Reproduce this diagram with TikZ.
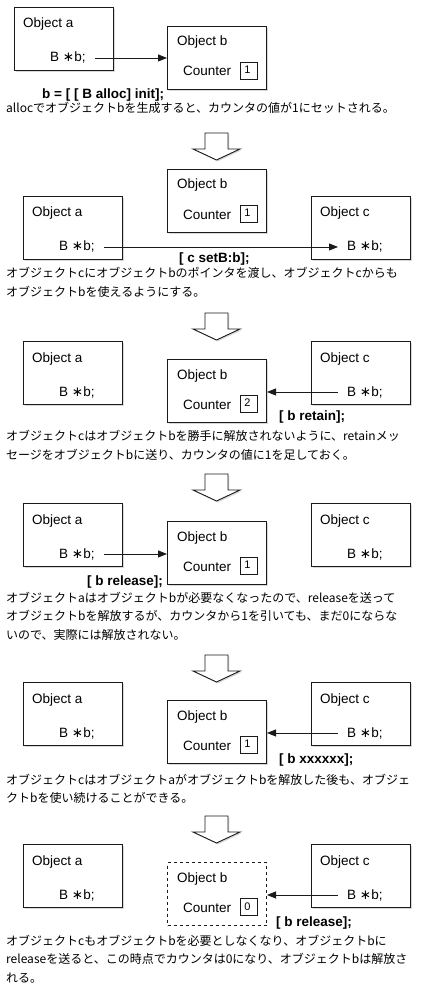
\documentclass[tikz,border=0pt]{standalone}
\usepackage{fontspec}
\setmainfont{Liberation Sans}
\newfontfamily\jpfont{Noto Sans CJK JP}
\newfontfamily\dvfont{DejaVu Sans}
\usetikzlibrary{arrows.meta,shadows}
\definecolor{boxline}{HTML}{1A1A1A}
\newcommand\bptr{B {\dvfont ∗}b;}
\tikzset{
  rc frame/.style={draw=boxline,line width=1pt,fill=white,anchor=north west,inner sep=0pt,
    minimum width=99pt,minimum height=63pt},
  rc box/.style={rc frame,drop shadow={shadow xshift=1.6pt,shadow yshift=-1.6pt,opacity=.3}},
  rc gone/.style={rc frame,dashed},
  rc title/.style={anchor=base west,inner sep=0pt,font=\fontsize{13.5}{16}\selectfont},
  rc count/.style={draw=boxline,line width=.8pt,anchor=north west,minimum size=17pt,inner sep=0pt,
    font=\fontsize{11}{12}\selectfont},
  rc code/.style={anchor=base west,inner sep=0pt,font=\bfseries\fontsize{13.5}{16}\selectfont},
  % base of a multi-line note is its last line
  rc note/.style={anchor=base west,inner sep=0pt,align=left,font=\jpfont\fontsize{12}{18.5}\selectfont},
  rc arrow/.style={draw=boxline,line width=.9pt,shorten <=9pt,-{Triangle[length=9pt,width=7pt]}},
  rc down/.style={draw=boxline,line width=.9pt,fill=white,
    drop shadow={shadow xshift=1.4pt,shadow yshift=-1.4pt,opacity=.3}}
}

\begin{document}
\begin{tikzpicture}[x=1pt,y=-1pt]
  \useasboundingbox (0,0) rectangle (442,992);
  % first step: a creates b
  \node[rc box] (a1) at (14,7) {};
  \node[rc title] (ta1) at ([shift={(9pt,-21pt)}]a1.north west) {Object a};
  \node[rc title] (pa1) at ([shift={(36pt,-55pt)}]a1.north west) {\bptr};
  \node[rc box] (b1) at (167,26) {};
  \node[rc title] (tb1) at ([shift={(10pt,-20pt)}]b1.north west) {Object b};
  \node[rc title] (kb1) at ([shift={(16pt,-50pt)}]b1.north west) {Counter};
  \node[rc count] (nb1) at ([shift={(73pt,-36pt)}]b1.north west) {\raisebox{1.5pt}{1}\kern3pt};
  \draw[rc arrow] (pa1) -- (pa1 -| b1.west);
  \node[rc code] (code1) at (42,99) {b = [ [ B alloc] init];};
  \node[rc note] (note1) at (6,113) {allocでオブジェクトbを生成すると、カウンタの値が1にセットされる。};

  % block arrows between steps
  \foreach \y in {133,313,474,655,816}
    \draw[rc down] (205,\y) -- (228,\y) -- (228,\y+16) -- (240,\y+16) -- (216.5,\y+27)
      -- (193,\y+16) -- (205,\y+16) -- cycle;

  % steps with a, b and c
  \foreach \n/\ya/\yb/\cnt in {2/196/169/1,3/341/359/2,4/503/521/1,5/682/700/1,6/844/862/0}{
    \node[rc box] (a\n) at (23,\ya) {};
    \node[rc title] (ta\n) at ([shift={(9pt,-21pt)}]a\n.north west) {Object a};
    \node[rc title] (pa\n) at ([shift={(36pt,-55pt)}]a\n.north west) {\bptr};
    \node[rc box] (c\n) at (311,\ya) {};
    \node[rc title] (tc\n) at ([shift={(9pt,-21pt)}]c\n.north west) {Object c};
    \node[rc title] (pc\n) at ([shift={(36pt,-55pt)}]c\n.north west) {\bptr};
    \ifnum\n=6
      \node[rc gone] (b\n) at (167,\yb) {};
    \else
      \node[rc box] (b\n) at (167,\yb) {};
    \fi
    \node[rc title] (tb\n) at ([shift={(10pt,-20pt)}]b\n.north west) {Object b};
    \node[rc title] (kb\n) at ([shift={(16pt,-50pt)}]b\n.north west) {Counter};
    \node[rc count] (nb\n) at ([shift={(73pt,-36pt)}]b\n.north west) {\raisebox{1.5pt}{\cnt}\kern3pt};
  }

  \draw[rc arrow,shorten >=9pt] (pa2) -- (pc2);
  \draw[rc arrow] (pc3) -- (pc3 -| b3.east);
  \draw[rc arrow] (pa4) -- (pa4 -| b4.west);
  \draw[rc arrow] (pc5) -- (pc5 -| b5.east);
  \draw[rc arrow] (pc6) -- (pc6 -| b6.east);

  \node[rc code] (code2) at (179,262) {[ c setB:b];};
  \node[rc code] (code3) at (279,420) {[ b retain];};
  \node[rc code] (code4) at (87,585) {[ b release];};
  \node[rc code] (code5) at (279,763) {[ b xxxxxx];};
  \node[rc code] (code6) at (276,926) {[ b release];};

  \node[rc note] (note2) at (6,296) {オブジェクトcにオブジェクトbのポインタを渡し、オブジェクトcからも\\
    オブジェクトbを使えるようにする。};
  \node[rc note] (note3) at (6,459) {オブジェクトcはオブジェクトbを勝手に解放されないように、retainメッ\\
    セージをオブジェクトbに送り、カウンタの値に1を足しておく。};
  \node[rc note] (note4) at (6,639) {オブジェクトaはオブジェクトbが必要なくなったので、releaseを送って\\
    オブジェクトbを解放するが、カウンタから1を引いても、まだ0にならな\\
    いので、実際には解放されない。};
  \node[rc note] (note5) at (6,802.5) {オブジェクトcはオブジェクトaがオブジェクトbを解放した後も、オブジェ\\
    クトbを使い続けることができる。};
  \node[rc note] (note6) at (6,982) {オブジェクトcもオブジェクトbを必要としなくなり、オブジェクトbに\\
    releaseを送ると、この時点でカウンタは0になり、オブジェクトbは解放さ\\
    れる。};
\end{tikzpicture}
\end{document}
